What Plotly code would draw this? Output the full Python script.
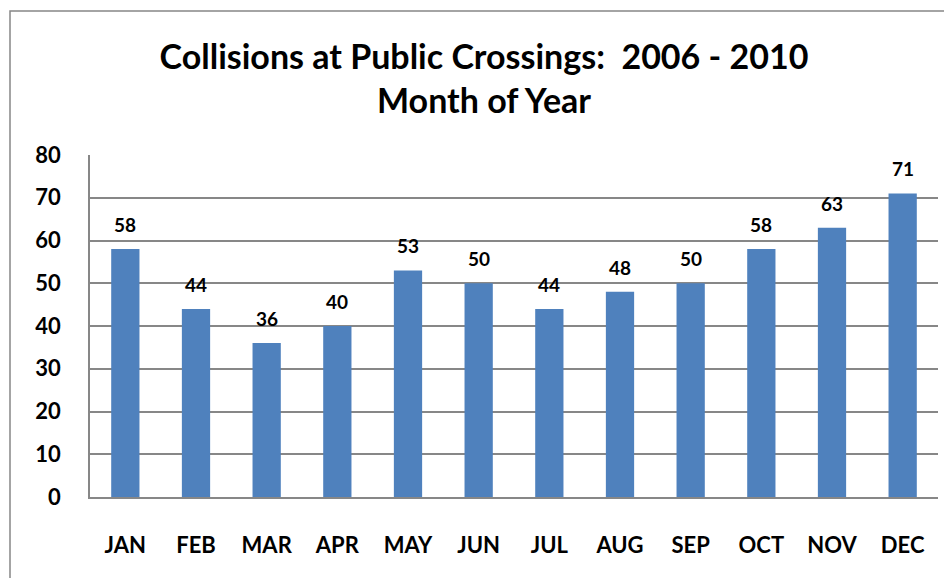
import plotly.graph_objects as go

months = ["JAN", "FEB", "MAR", "APR", "MAY", "JUN", "JUL", "AUG", "SEP", "OCT", "NOV", "DEC"]
collisions = [58, 44, 36, 40, 53, 50, 44, 48, 50, 58, 63, 71]
y_ticks = [0, 10, 20, 30, 40, 50, 60, 70, 80]

FONT = "Lato"
GRID = "#878787"
BAR = "#4F81BD"

fig = go.Figure()
fig.add_trace(go.Bar(x=months, y=collisions, marker=dict(color=BAR, line=dict(width=0)),
                     hoverinfo="skip"))

for m, v in zip(months, collisions):
    fig.add_annotation(x=m, y=v, text=str(v), showarrow=False, yanchor="bottom",
                       yshift=11, font=dict(family=FONT, size=19, color="#000000", weight="bold"))

W, H = 952, 578
OFF = 8  # page body margin
L, T = 90 - OFF, 155 - OFF
pw, ph = 848, 342
R = W - L - pw
B = H - T - ph
# outer chart frame
fig.add_shape(type="rect", xref="paper", yref="paper",
              x0=(10 - OFF - L) / pw, x1=(W + 40 - L) / pw,
              y0=-(H + 40 - (T + ph)) / ph, y1=((T + ph) - (11 - OFF)) / ph,
              line=dict(color=GRID, width=1.5), fillcolor="rgba(0,0,0,0)", layer="below")

fig.update_layout(
    width=W, height=H,
    margin=dict(l=L, r=R, t=T, b=B),
    paper_bgcolor="white", plot_bgcolor="white",
    showlegend=False,
    bargap=0.6,
    font=dict(family=FONT, color="#000000"),
    title=dict(text="<b>Collisions at Public Crossings:  2006 - 2010<br>Month of Year</b>",
               x=0.5, xanchor="center", y=(H - 61) / H, yanchor="middle", yref="container",
               font=dict(family=FONT, size=34, color="#000000")),
)
fig.update_xaxes(showline=True, linecolor=GRID, linewidth=1.5, showgrid=False,
                 ticks="", tickfont=dict(family=FONT, size=22, weight="bold"),
                 ticklabelstandoff=28)
fig.update_yaxes(range=[0, 80], tickvals=y_ticks, showline=True, linecolor=GRID, linewidth=1.5,
                 showgrid=True, gridcolor=GRID, gridwidth=1.5, zeroline=False, ticks="",
                 tickfont=dict(family=FONT, size=22, weight="bold"), ticklabelstandoff=23)

fig.write_html("out.html")
